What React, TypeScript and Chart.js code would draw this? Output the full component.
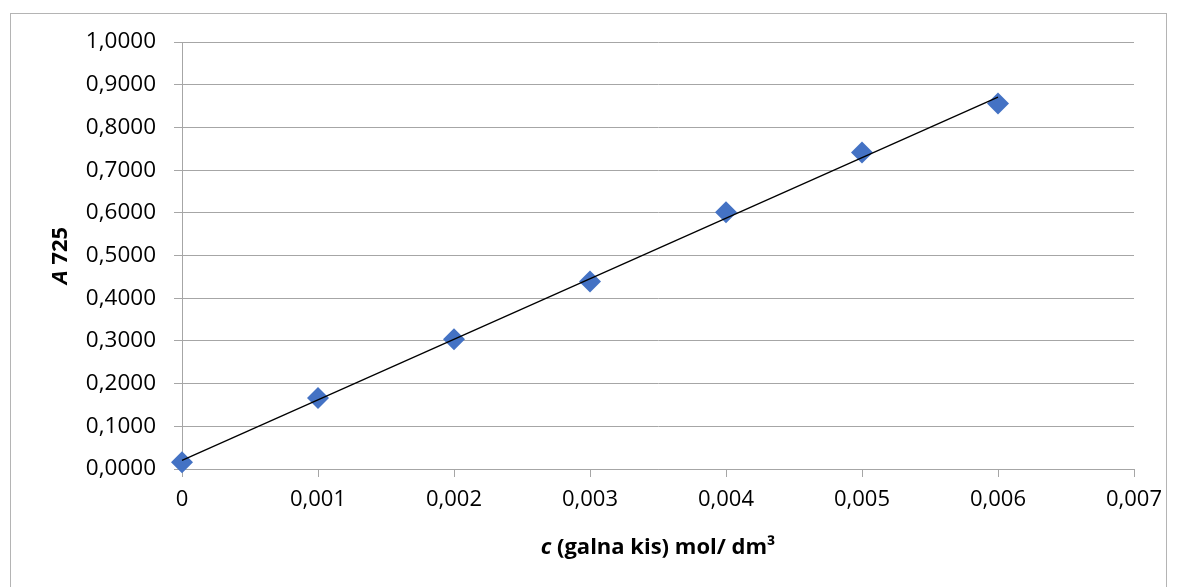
import React, { useEffect, useRef } from "react";
import { Chart, registerables } from "chart.js";

Chart.register(...registerables);

const concentrations = [0, 0.001, 0.002, 0.003, 0.004, 0.005, 0.006];
const absorbance = [0.016, 0.166, 0.304, 0.439, 0.601, 0.741, 0.856];
const trendX = [0, 0.006];
const trendY = [0.02, 0.871];
const xTickLabels = ["0", "0,001", "0,002", "0,003", "0,004", "0,005", "0,006", "0,007"];
const yTickLabels = ["0,0000", "0,1000", "0,2000", "0,3000", "0,4000", "0,5000", "0,6000", "0,7000", "0,8000", "0,9000", "1,0000"];

const FONT = "'Open Sans', 'Noto Sans', sans-serif";

function drawMixed(ctx: CanvasRenderingContext2D, parts: { t: string; f: string }[], cx: number, cy: number) {
  let total = 0;
  const widths = parts.map((p) => {
    ctx.font = p.f;
    const w = ctx.measureText(p.t).width;
    total += w;
    return w;
  });
  let x = cx - total / 2;
  ctx.textBaseline = "middle";
  ctx.textAlign = "left";
  parts.forEach((p, i) => {
    ctx.font = p.f;
    ctx.fillText(p.t, x, cy);
    x += widths[i];
  });
}

const titlePlugin = {
  id: "mixedTitles",
  afterDraw(chart: any) {
    const ctx = chart.ctx as CanvasRenderingContext2D;
    const area = chart.chartArea;
    ctx.save();
    ctx.fillStyle = "#000";
    drawMixed(
      ctx,
      [
        { t: "c", f: `italic bold 22px ${FONT}` },
        { t: " (galna kis) mol/ dm³", f: `bold 22px ${FONT}` },
      ],
      (area.left + area.right) / 2,
      548
    );
    ctx.translate(61, (area.top + area.bottom) / 2);
    ctx.rotate(-Math.PI / 2);
    drawMixed(
      ctx,
      [
        { t: "A", f: `italic bold 22px ${FONT}` },
        { t: " 725", f: `bold 22px ${FONT}` },
      ],
      0,
      0
    );
    ctx.restore();
  },
};

export default function App() {
  const ref = useRef<HTMLCanvasElement>(null);
  useEffect(() => {
    if (!ref.current) return;
    const chart = new Chart(ref.current, {
      type: "scatter",
      data: {
        datasets: [
          {
            label: "A 725",
            data: concentrations.map((x, i) => ({ x, y: absorbance[i] })),
            pointStyle: "rectRot",
            pointRadius: 11,
            pointHoverRadius: 11,
            backgroundColor: "#4472C4",
            borderColor: "#4472C4",
            borderWidth: 0,
            showLine: false,
            clip: false,
            order: 2,
          } as any,
          {
            label: "trend",
            data: trendX.map((x, i) => ({ x, y: trendY[i] })),
            showLine: true,
            pointRadius: 0,
            borderColor: "#000",
            borderWidth: 1.3,
            fill: false,
            clip: false,
            order: 1,
          } as any,
        ],
      },
      options: {
        animation: false,
        responsive: false,
        devicePixelRatio: 1,
        layout: { padding: { left: 0, top: 42, right: 47, bottom: 0 } },
        plugins: { legend: { display: false }, tooltip: { enabled: false }, title: { display: false } },
        scales: {
          x: {
            type: "linear",
            min: 0,
            max: 0.007,
            ticks: {
              stepSize: 0.001,
              color: "#000",
              font: { family: FONT, size: 22 },
              padding: 10,
              maxRotation: 0,
              autoSkip: false,
              callback: (_v: any, i: number) => xTickLabels[i],
            },
            grid: { display: true, drawOnChartArea: false, drawTicks: true, tickLength: 8, color: "#A6A6A6", lineWidth: 1 },
            border: { display: true, color: "#A6A6A6", width: 1 },
            afterFit: (s: any) => {
              s.height = 118;
            },
          },
          y: {
            type: "linear",
            min: 0,
            max: 1,
            ticks: {
              stepSize: 0.1,
              color: "#000",
              font: { family: FONT, size: 22.5 },
              padding: 18,
              autoSkip: false,
              callback: (_v: any, i: number) => yTickLabels[i],
            },
            grid: { display: true, drawTicks: true, tickLength: 8, color: "#A6A6A6", lineWidth: 1 },
            border: { display: true, color: "#A6A6A6", width: 1 },
            afterFit: (s: any) => {
              s.width = 182;
            },
          },
        },
      },
      plugins: [titlePlugin],
    });
    return () => chart.destroy();
  }, []);
  return (
    <div style={{ position: "fixed", left: 0, top: 0, width: 1181, height: 587, background: "#fff", overflow: "hidden" }}>
      <div
        style={{
          position: "absolute",
          left: 10,
          top: 13,
          width: 1157,
          height: 620,
          border: "1px solid #B4B4B4",
          boxSizing: "border-box",
        }}
      />
      <canvas ref={ref} width={1181} height={587} style={{ position: "absolute", left: 0, top: 0, width: 1181, height: 587 }} />
    </div>
  );
}
